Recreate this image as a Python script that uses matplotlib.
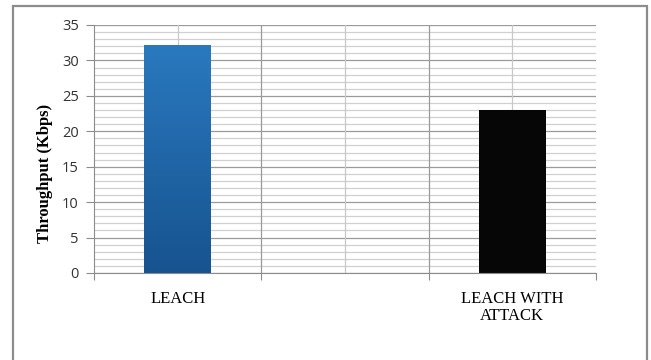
import numpy as np
import matplotlib.pyplot as plt
from matplotlib.patches import Rectangle
from matplotlib.colors import LinearSegmentedColormap

# throughput per scenario (middle slot left empty)
categories = ['LEACH', '', 'LEACH WITH\nATTACK']
throughput = [32.2, 0, 23.0]
bar_colors = ['#2370b8', 'none', '#060606']

fig = plt.figure(figsize=(6.51, 3.6), dpi=100)

# grey frame around the chart
fig.patches.append(Rectangle((13 / 651, -0.05), 634 / 651, 1.05 - 6 / 360,
                             transform=fig.transFigure, fill=False,
                             edgecolor='#8c8c8c', linewidth=1.6))

ax = fig.add_axes([94 / 651, 87 / 360, 502 / 651, 248 / 360])
x = np.arange(len(categories))

# grid: light minor lines every 1, darker every 5
for v in np.arange(0, 36, 1):
    ax.axhline(v, color='#d0d0d0' if v % 5 else '#9a9a9a', lw=0.9, zorder=0)
for c in x:
    ax.axvline(c, color='#c8c8c8', lw=0.9, zorder=0)
for b in [0.5, 1.5]:
    ax.axvline(b, color='#9a9a9a', lw=0.9, zorder=0)

bars = ax.bar(x, throughput, width=0.4, color=bar_colors, zorder=2)

# vertical gradient on the first bar
blue = LinearSegmentedColormap.from_list('blu', ['#17538f', '#2a79bf'])
b0 = bars[0]
grad = np.linspace(0, 1, 256).reshape(-1, 1)
im = ax.imshow(grad, cmap=blue, origin='lower', aspect='auto', zorder=3,
               extent=[b0.get_x(), b0.get_x() + b0.get_width(), 0, b0.get_height()])
im.set_clip_path(b0)
b0.set_facecolor('none')

ax.set_xlim(-0.5, 2.5)
ax.set_ylim(0, 35)
ax.set_yticks(range(0, 36, 5))
ax.set_yticklabels([str(v) for v in range(0, 36, 5)],
                   fontfamily='Open Sans', fontsize=10.5, color='#333333')

ax.set_xticks([-0.5, 0.5, 1.5, 2.5])
ax.set_xticklabels([])
ax.set_xticks(x, minor=True)
ax.set_xticklabels(categories, minor=True, fontfamily='Liberation Serif',
                   fontsize=12, linespacing=1.05)
ax.tick_params(axis='x', which='major', length=5, color='#8c8c8c')
ax.tick_params(axis='x', which='minor', length=0, pad=13)
ax.tick_params(axis='y', length=6, color='#8c8c8c', pad=5)

for side in ['top', 'right']:
    ax.spines[side].set_visible(False)
ax.spines['left'].set_color('#8c8c8c')
ax.spines['bottom'].set_color('#8c8c8c')

fig.text(45 / 651, 1 - 173 / 360, 'Throughput (Kbps)', rotation=90,
         ha='center', va='center', fontfamily='Liberation Serif',
         fontweight='bold', fontsize=12)

fig.savefig('out.png', dpi=100)
